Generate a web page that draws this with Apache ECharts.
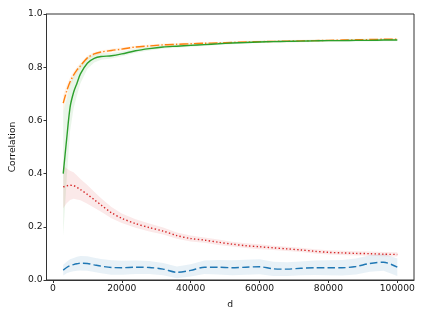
<!DOCTYPE html>
<html>
<head>
<meta charset="utf-8">
<script src="https://cdn.jsdelivr.net/npm/echarts@6/dist/echarts.min.js"></script>
<style>html,body{margin:0;padding:0;background:#fff;}#c{width:425px;height:319px;}</style>
</head>
<body>
<div id="c"></div>
<script>
// ---- data ----
const dValues = [3000, 4000, 5000, 6000, 7000, 8000, 10000, 12000, 14000, 17000, 20000, 24000, 28000, 32000, 36000, 40000, 44000, 48000, 52000, 56000, 60000, 64000, 68000, 72000, 76000, 80000, 84000, 88000, 92000, 96000, 100000];

const blueMean = [0.037, 0.047, 0.054, 0.058, 0.061, 0.063, 0.062, 0.057, 0.052, 0.047, 0.046, 0.048, 0.047, 0.041, 0.029, 0.036, 0.048, 0.048, 0.046, 0.048, 0.050, 0.042, 0.041, 0.044, 0.046, 0.046, 0.046, 0.051, 0.062, 0.067, 0.048];
const blueBand = [0.020, 0.022, 0.024, 0.025, 0.026, 0.027, 0.027, 0.027, 0.027, 0.027, 0.026, 0.025, 0.024, 0.023, 0.022, 0.023, 0.025, 0.027, 0.028, 0.028, 0.028, 0.027, 0.026, 0.026, 0.027, 0.028, 0.029, 0.030, 0.031, 0.032, 0.033];

const orangeMean = [0.665, 0.710, 0.745, 0.770, 0.790, 0.805, 0.835, 0.850, 0.857, 0.863, 0.868, 0.876, 0.880, 0.884, 0.886, 0.888, 0.890, 0.891, 0.893, 0.895, 0.896, 0.897, 0.898, 0.899, 0.900, 0.901, 0.902, 0.903, 0.904, 0.905, 0.905];
const orangeBand = [0.030, 0.022, 0.016, 0.013, 0.011, 0.010, 0.008, 0.007, 0.006, 0.006, 0.006, 0.005, 0.005, 0.005, 0.005, 0.005, 0.005, 0.004, 0.004, 0.004, 0.004, 0.004, 0.004, 0.004, 0.004, 0.004, 0.004, 0.004, 0.004, 0.004, 0.004];

const greenMean = [0.400, 0.530, 0.650, 0.705, 0.740, 0.775, 0.815, 0.833, 0.840, 0.843, 0.850, 0.862, 0.870, 0.876, 0.879, 0.882, 0.885, 0.888, 0.891, 0.893, 0.895, 0.896, 0.897, 0.898, 0.899, 0.900, 0.900, 0.901, 0.901, 0.902, 0.902];
const greenBand = [0.235, 0.150, 0.090, 0.060, 0.045, 0.035, 0.022, 0.015, 0.012, 0.010, 0.009, 0.008, 0.007, 0.006, 0.006, 0.005, 0.005, 0.005, 0.005, 0.004, 0.004, 0.004, 0.004, 0.004, 0.004, 0.004, 0.004, 0.004, 0.004, 0.004, 0.004];

const redMean = [0.350, 0.354, 0.356, 0.355, 0.348, 0.340, 0.322, 0.302, 0.282, 0.253, 0.232, 0.212, 0.197, 0.184, 0.167, 0.156, 0.150, 0.142, 0.135, 0.129, 0.125, 0.121, 0.117, 0.113, 0.108, 0.104, 0.102, 0.100, 0.099, 0.097, 0.096];
const redBand = [0.080, 0.065, 0.055, 0.050, 0.045, 0.040, 0.035, 0.030, 0.025, 0.021, 0.018, 0.016, 0.015, 0.013, 0.012, 0.011, 0.010, 0.010, 0.009, 0.009, 0.009, 0.008, 0.008, 0.008, 0.008, 0.008, 0.008, 0.008, 0.008, 0.008, 0.008];

const xTicks = [0, 20000, 40000, 60000, 80000, 100000];
const yTicks = [0.0, 0.2, 0.4, 0.6, 0.8, 1.0];

// ---- build ----
const FONT = 'DejaVu Sans';
const TXT = '#141414';
const AX = '#333333';

function hexA(hex, a) {
  const r = parseInt(hex.slice(1,3),16), g = parseInt(hex.slice(3,5),16), b = parseInt(hex.slice(5,7),16);
  return `rgba(${r},${g},${b},${a})`;
}

const defs = [
  {name: 'blue', color: '#1f77b4', mean: blueMean, band: blueBand, dash: [7.5, 3.2]},
  {name: 'orange', color: '#ff7f0e', mean: orangeMean, band: orangeBand, dash: [8.8, 2.2, 1.4, 2.2]},
  {name: 'green', color: '#2ca02c', mean: greenMean, band: greenBand, dash: 'solid'},
  {name: 'red', color: '#d62728', mean: redMean, band: redBand, dash: [1.4, 2.3]}
];

const series = [];
defs.forEach(s => {
  const bandData = dValues.map((d, i) => [d, s.mean[i] - s.band[i], s.mean[i] + s.band[i]]);
  series.push({
    type: 'custom', silent: true, z: 1,
    data: bandData,
    encode: {x: 0, y: [1, 2]},
    renderItem: function (params, api) {
      if (params.dataIndex !== 0) return null;
      const up = bandData.map(p => api.coord([p[0], p[2]]));
      const lo = bandData.map(p => api.coord([p[0], p[1]])).reverse();
      return {
        type: 'polygon',
        shape: {points: up.concat(lo), smooth: 0},
        style: {fill: hexA(s.color, 0.1), stroke: null}
      };
    }
  });
});
defs.forEach(s => {
  series.push({
    type: 'line', name: s.name, data: dValues.map((d, i) => [d, s.mean[i]]), symbol: 'none', smooth: 0.3,
    lineStyle: {color: s.color, width: 1.4, type: s.dash}, z: 3
  });
});

const chart = echarts.init(document.getElementById('c'), null, {renderer: 'canvas'});
chart.setOption({
  animation: false,
  backgroundColor: '#fff',
  grid: {left: 44, right: 11, top: 14, bottom: 39, show: true, borderColor: AX, borderWidth: 1, containLabel: false},
  xAxis: {
    type: 'value', min: -1850, max: 104850,
    name: 'd', nameLocation: 'middle', nameGap: 20,
    nameTextStyle: {fontFamily: FONT, fontSize: 9.2, color: TXT},
    splitLine: {show: false},
    axisLine: {onZero: false, lineStyle: {color: AX, width: 1}},
    axisTick: {show: true, length: 3, inside: false, customValues: xTicks, lineStyle: {color: AX}},
    axisLabel: {customValues: xTicks, fontFamily: FONT, fontSize: 9.2, color: TXT, margin: 4, formatter: v => String(v)}
  },
  yAxis: {
    type: 'value', min: 0, max: 1, interval: 0.2,
    name: 'Correlation', nameLocation: 'middle', nameGap: 25,
    nameTextStyle: {fontFamily: FONT, fontSize: 9.2, color: TXT},
    splitLine: {show: false},
    axisLine: {show: true, onZero: false, lineStyle: {color: AX, width: 1}},
    axisTick: {show: true, length: 3, lineStyle: {color: AX}},
    axisLabel: {fontFamily: FONT, fontSize: 9.2, color: TXT, margin: 4, formatter: v => v.toFixed(1)}
  },
  series: series
});
</script>
</body>
</html>
